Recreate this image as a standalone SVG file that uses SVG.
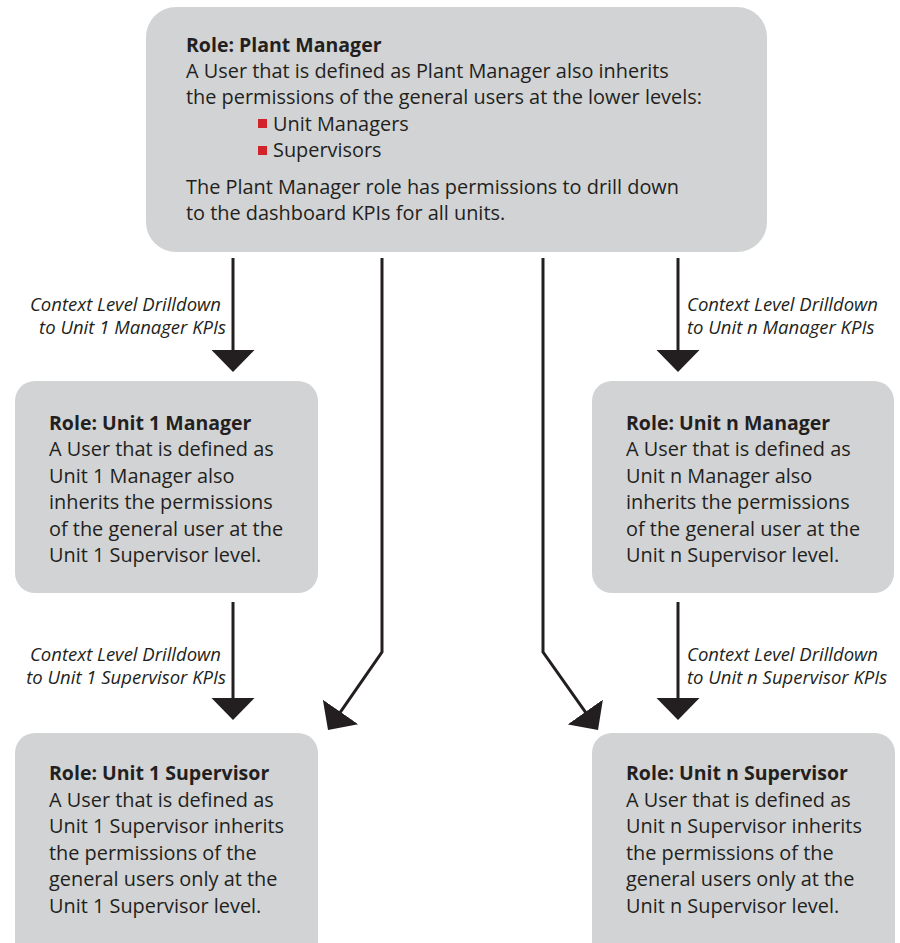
<svg xmlns="http://www.w3.org/2000/svg" width="900" height="943" viewBox="0 0 900 943">
<style>
.box{fill:#d1d3d4;}
.t{font-family:"Open Sans","Noto Sans","Liberation Sans",sans-serif;font-size:19.9px;fill:#231f20;}
.b{font-weight:bold;font-size:19.5px;}
.lbl{font-family:"Open Sans","Noto Sans","Liberation Sans",sans-serif;font-size:18.5px;font-style:italic;fill:#231f20;}
.conn{fill:none;stroke:#231f20;stroke-width:3;marker-end:url(#ah);}
.bul{fill:#d2232a;}
</style>
<defs>
<marker id="ah" markerUnits="userSpaceOnUse" markerWidth="22" markerHeight="44" viewBox="0 -22 22 44" refX="18" refY="0" orient="auto">
<path d="M0,-21.5 L22,0 L0,21.5 Z" fill="#231f20"/>
</marker>
</defs>
<rect width="900" height="943" fill="#ffffff"/>

<g id="plant-manager">
<rect class="box" x="146" y="7" width="621" height="245" rx="30"/>
<text class="t b" x="186" y="52">Role: Plant Manager</text>
<text class="t" x="186" y="77.5">A User that is defined as Plant Manager also inherits</text>
<text class="t" x="186" y="104">the permissions of the general users at the lower levels:</text>
<rect class="bul" x="258" y="119" width="9" height="9"/>
<text class="t" x="273" y="130.5">Unit Managers</text>
<rect class="bul" x="258" y="146" width="9" height="9"/>
<text class="t" x="273" y="157">Supervisors</text>
<text class="t" x="186" y="194">The Plant Manager role has permissions to drill down</text>
<text class="t" x="186" y="220">to the dashboard KPIs for all units.</text>
</g>

<g id="unit1-manager">
<rect class="box" x="15" y="381" width="303" height="212" rx="20"/>
<text class="t b" x="49" y="430">Role: Unit 1 Manager</text>
<text class="t" x="49" y="456">A User that is defined as</text>
<text class="t" x="49" y="482.5">Unit 1 Manager also</text>
<text class="t" x="49" y="509">inherits the permissions</text>
<text class="t" x="49" y="535.5">of the general user at the</text>
<text class="t" x="49" y="562">Unit 1 Supervisor level.</text>
</g>

<g id="unitn-manager">
<rect class="box" x="592" y="381" width="302" height="212" rx="20"/>
<text class="t b" x="626" y="430">Role: Unit n Manager</text>
<text class="t" x="626" y="456">A User that is defined as</text>
<text class="t" x="626" y="482.5">Unit n Manager also</text>
<text class="t" x="626" y="509">inherits the permissions</text>
<text class="t" x="626" y="535.5">of the general user at the</text>
<text class="t" x="626" y="562">Unit n Supervisor level.</text>
</g>

<g id="unit1-supervisor">
<rect class="box" x="15" y="733" width="303" height="240" rx="20"/>
<text class="t b" x="49" y="780">Role: Unit 1 Supervisor</text>
<text class="t" x="49" y="806.5">A User that is defined as</text>
<text class="t" x="49" y="833">Unit 1 Supervisor inherits</text>
<text class="t" x="49" y="859.5">the permissions of the</text>
<text class="t" x="49" y="886">general users only at the</text>
<text class="t" x="49" y="912.5">Unit 1 Supervisor level.</text>
</g>

<g id="unitn-supervisor">
<rect class="box" x="592" y="733" width="303" height="240" rx="20"/>
<text class="t b" x="626" y="780">Role: Unit n Supervisor</text>
<text class="t" x="626" y="806.5">A User that is defined as</text>
<text class="t" x="626" y="833">Unit n Supervisor inherits</text>
<text class="t" x="626" y="859.5">the permissions of the</text>
<text class="t" x="626" y="886">general users only at the</text>
<text class="t" x="626" y="912.5">Unit n Supervisor level.</text>
</g>

<g id="connectors">
<path class="conn" d="M233,258 L233,368"/>
<path class="conn" d="M678,258 L678,368"/>
<path class="conn" d="M233,602 L233,716"/>
<path class="conn" d="M678,602 L678,716"/>
<path class="conn" d="M382,258 L382,652 L330.3,726.7"/>
<path class="conn" d="M543,258 L543,652 L595.7,726.7"/>
<text class="lbl" x="221" y="311" text-anchor="end">Context Level Drilldown</text>
<text class="lbl" x="226" y="334" text-anchor="end">to Unit 1 Manager KPIs</text>
<text class="lbl" x="687" y="311">Context Level Drilldown</text>
<text class="lbl" x="687" y="334">to Unit n Manager KPIs</text>
<text class="lbl" x="221" y="661" text-anchor="end">Context Level Drilldown</text>
<text class="lbl" x="226" y="684" text-anchor="end">to Unit 1 Supervisor KPIs</text>
<text class="lbl" x="687" y="661">Context Level Drilldown</text>
<text class="lbl" x="687" y="684">to Unit n Supervisor KPIs</text>
</g>
</svg>
